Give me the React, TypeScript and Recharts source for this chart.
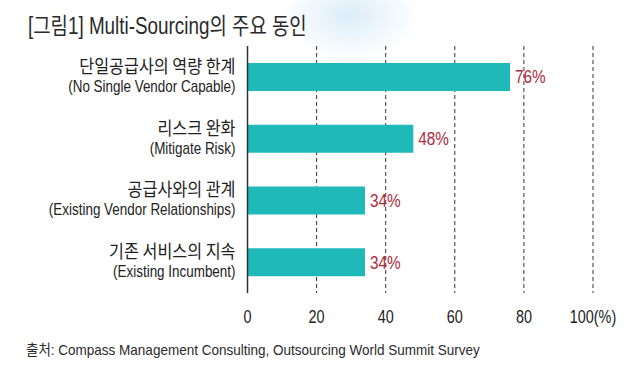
import { Bar, BarChart, CartesianGrid, LabelList, XAxis, YAxis } from "recharts";

const reasonsKo = [
  "단일공급사의 역량 한계",
  "리스크 완화",
  "공급사와의 관계",
  "기존 서비스의 지속",
];
const reasonsEn = [
  "(No Single Vendor Capable)",
  "(Mitigate Risk)",
  "(Existing Vendor Relationships)",
  "(Existing Incumbent)",
];
const shares = [76, 48, 34, 34];
const xTicks = [0, 20, 40, 60, 80, 100];

const data = reasonsKo.map((ko, i) => ({ ko, en: reasonsEn[i], share: shares[i] }));

// no condensed faces installed, so text gets squeezed with scaleX
const latin = "'Liberation Sans', 'Noto Sans CJK KR', sans-serif";
const korean = "'Noto Sans CJK KR', sans-serif";

function ReasonTick(props: any) {
  const { x, y, payload } = props;
  const i = payload.index;
  return (
    <g transform={`translate(${x - 4},${y})`}>
      <text
        transform="scale(0.9,1)"
        textAnchor="end"
        y={-4}
        fontFamily={korean}
        fontSize={18}
        fill="#222"
      >
        {reasonsKo[i]}
      </text>
      <text
        transform="scale(0.84,1)"
        textAnchor="end"
        y={15}
        fontFamily={latin}
        fontSize={16}
        fill="#222"
      >
        {reasonsEn[i]}
      </text>
    </g>
  );
}

function PercentTick(props: any) {
  const { x, y, payload } = props;
  const label = payload.value === 100 ? "100(%)" : String(payload.value);
  return (
    <g transform={`translate(${x},${y})`}>
      <text
        transform="scale(0.8,1)"
        textAnchor="middle"
        dy="0.9em"
        fontFamily={latin}
        fontSize={18}
        fill="#222"
      >
        {label}
      </text>
    </g>
  );
}

function ShareLabel(props: any) {
  const { x, y, width, height, value } = props;
  return (
    <g transform={`translate(${x + width + 5},${y + height / 2})`}>
      <text
        transform="scale(0.85,1)"
        dy="0.36em"
        fontFamily={latin}
        fontSize={18}
        fill="#b0283c"
      >
        {`${value}%`}
      </text>
    </g>
  );
}

export default function App() {
  return (
    <div
      style={{
        position: "absolute",
        left: 0,
        top: 0,
        width: 640,
        height: 370,
        background:
          "radial-gradient(ellipse 70px 45px at 350px 15px, #dcedf8 0%, rgba(255,255,255,0) 100%), #ffffff",
        overflow: "hidden",
      }}
    >
      <div
        style={{
          position: "absolute",
          left: 28,
          top: 7,
          fontFamily: latin,
          fontSize: 23,
          color: "#2a2a2a",
          whiteSpace: "nowrap",
          transform: "scaleX(0.82)",
          transformOrigin: "0 0",
        }}
      >
        [그림1] Multi-Sourcing의 주요 동인
      </div>
      <BarChart
        width={640}
        height={370}
        data={data}
        layout="vertical"
        margin={{ top: 46, right: 47, bottom: 47, left: 0 }}
        style={{ position: "absolute", left: 0, top: 0 }}
      >
        <CartesianGrid horizontal={false} stroke="#333" strokeDasharray="4 3" />
        <XAxis
          type="number"
          domain={[0, 100]}
          ticks={xTicks}
          axisLine={false}
          tickLine={false}
          height={30}
          tickMargin={8}
          interval={0}
          tick={<PercentTick />}
        />
        <YAxis
          type="category"
          dataKey="ko"
          width={247.5}
          axisLine={{ stroke: "#333", strokeWidth: 1.5 }}
          tickLine={false}
          tick={<ReasonTick />}
        />
        <Bar dataKey="share" fill="#20b9b9" barSize={28} isAnimationActive={false}>
          <LabelList dataKey="share" content={<ShareLabel />} />
        </Bar>
      </BarChart>
      <div
        style={{
          position: "absolute",
          left: 26,
          top: 338,
          fontFamily: latin,
          fontSize: 15,
          color: "#2a2a2a",
          whiteSpace: "nowrap",
          transform: "scaleX(0.9)",
          transformOrigin: "0 0",
        }}
      >
        출처: Compass Management Consulting, Outsourcing World Summit Survey
      </div>
    </div>
  );
}
